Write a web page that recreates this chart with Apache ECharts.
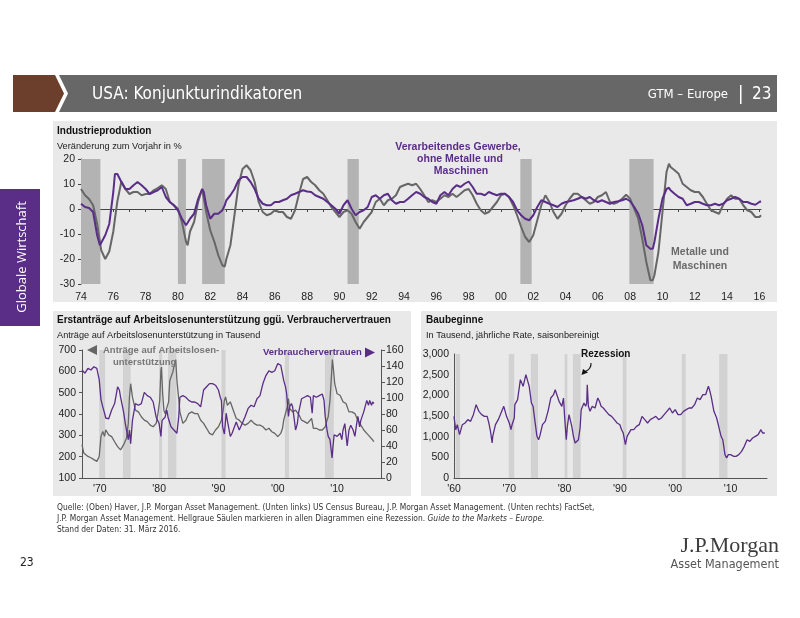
<!DOCTYPE html>
<html><head><meta charset="utf-8">
<script src="https://cdn.jsdelivr.net/npm/echarts@6/dist/echarts.min.js"></script>
<style>html,body{margin:0;padding:0;background:#fff}#c{width:800px;height:618px}</style>
</head><body><div id="c"></div><script>
// ---------- data ----------
const recessions = [[1960.3,1961.1],[1969.9,1970.9],[1973.9,1975.2],[1980.0,1980.5],[1981.5,1982.9],[1990.5,1991.2],[2001.2,2001.9],[2007.95,2009.45]];

// Industrieproduktion, Veränderung zum Vorjahr in %
const ipManufacturing = [[1974.0,2.1],[1974.25,0.8],[1974.5,0.4],[1974.75,-1.2],[1975.0,-10.5],[1975.17,-14.5],[1975.25,-13.9],[1975.5,-10.5],[1975.75,-6],[1976.0,6.8],[1976.1,14],[1976.25,14],[1976.5,10.8],[1976.75,8],[1977.0,8],[1977.25,9.5],[1977.5,10.8],[1977.75,9.5],[1978.0,8],[1978.25,6],[1978.5,6.8],[1978.75,7.5],[1979.0,8.8],[1979.25,4.8],[1979.5,2.8],[1979.75,1.5],[1980.0,-0.5],[1980.25,-3.9],[1980.5,-6.5],[1980.6,-5.5],[1980.75,-3.9],[1981.0,-1.9],[1981.25,4],[1981.5,8],[1981.6,6.8],[1981.75,1.5],[1982.0,-3.9],[1982.25,-1.9],[1982.5,-1.9],[1982.75,-0.5],[1982.9,1.5],[1983.0,3.5],[1983.25,5.5],[1983.5,8],[1983.75,11.5],[1984.0,12.8],[1984.25,12.8],[1984.5,10.8],[1984.75,8],[1985.0,4.1],[1985.25,2.1],[1985.5,1.5],[1985.75,1.5],[1986.0,2.8],[1986.25,2.8],[1986.5,3.5],[1986.75,4.1],[1987.0,5.5],[1987.25,6.1],[1987.5,6.8],[1987.75,7.5],[1988.0,7],[1988.25,6.8],[1988.5,5.5],[1988.75,4.8],[1989.0,4.1],[1989.25,2.8],[1989.5,1.5],[1989.75,0.1],[1990.0,-1.9],[1990.25,1.5],[1990.5,3.5],[1990.75,0.1],[1991.0,-2.5],[1991.25,-1.2],[1991.5,-0.5],[1991.75,0.8],[1992.0,4.8],[1992.25,5.5],[1992.5,4.1],[1992.75,5.5],[1993.0,6.1],[1993.25,3.5],[1993.5,2.1],[1993.75,2.8],[1994.0,2.8],[1994.25,4.1],[1994.5,5.5],[1994.75,6.8],[1995.0,6.1],[1995.25,4.8],[1995.5,4.1],[1995.75,2.8],[1996.0,2.1],[1996.25,5.5],[1996.5,6.8],[1996.75,5.5],[1997.0,8],[1997.25,9.5],[1997.5,8.8],[1997.75,10.1],[1998.0,11],[1998.25,8.8],[1998.5,6.1],[1998.75,6.1],[1999.0,5.5],[1999.25,6.8],[1999.5,6.1],[1999.75,5.5],[2000.0,6.1],[2000.25,6.1],[2000.5,4.8],[2000.75,2.8],[2001.0,-0.5],[2001.25,-2.5],[2001.5,-3.9],[2001.75,-4.5],[2002.0,-2.5],[2002.25,0.8],[2002.5,3.5],[2002.75,2.8],[2003.0,2.1],[2003.25,1.5],[2003.5,0.8],[2003.75,2.1],[2004.0,2.8],[2004.25,3.1],[2004.5,3.5],[2004.75,4.1],[2005.0,4.8],[2005.25,4.1],[2005.5,4.8],[2005.75,3.5],[2006.0,2.8],[2006.25,3.5],[2006.5,2.8],[2006.75,2.1],[2007.0,2.8],[2007.25,3.1],[2007.5,3.5],[2007.75,4.1],[2008.0,3.1],[2008.25,0.8],[2008.5,-1.9],[2008.75,-6.5],[2009.0,-14.5],[2009.25,-15.9],[2009.4,-15.9],[2009.5,-13.2],[2009.75,-3.9],[2010.0,4.1],[2010.25,8],[2010.4,8.5],[2010.5,7.5],[2010.75,6.1],[2011.0,4.8],[2011.25,4.1],[2011.5,1.5],[2011.75,2.1],[2012.0,2.8],[2012.25,2.8],[2012.5,2.1],[2012.75,1.5],[2013.0,1.5],[2013.25,2.1],[2013.5,1.5],[2013.75,2.1],[2014.0,3.5],[2014.25,4.1],[2014.5,4.8],[2014.75,4.1],[2015.0,2.8],[2015.25,2.8],[2015.5,2.1],[2015.75,1.7],[2016.0,2.8],[2016.1,3.1]];
const ipMetals = [[1974.0,8],[1974.25,5.5],[1974.5,4],[1974.75,1.5],[1975.0,-6],[1975.17,-13],[1975.25,-16.5],[1975.5,-20],[1975.75,-17],[1976.0,-9],[1976.1,-4],[1976.25,3],[1976.5,11],[1976.75,8],[1977.0,6],[1977.25,6.8],[1977.5,6.8],[1977.75,5.5],[1978.0,6],[1978.25,6],[1978.5,7.5],[1978.75,8.4],[1979.0,9.5],[1979.25,8],[1979.5,2.8],[1979.75,1.5],[1980.0,0.1],[1980.25,-5.2],[1980.5,-13],[1980.6,-14.5],[1980.75,-9],[1981.0,-5.2],[1981.25,2.8],[1981.5,8],[1981.6,8.8],[1981.75,-1.2],[1982.0,-8.5],[1982.25,-13],[1982.5,-18.5],[1982.75,-22.5],[1982.9,-23],[1983.0,-20],[1983.25,-14.5],[1983.5,-2.5],[1983.75,9.5],[1984.0,16],[1984.25,17.5],[1984.5,15.5],[1984.75,10.8],[1985.0,2.8],[1985.25,-1.2],[1985.5,-2.5],[1985.75,-1.9],[1986.0,-0.5],[1986.25,-1.2],[1986.5,-1.2],[1986.75,-3.2],[1987.0,-3.9],[1987.25,-0.5],[1987.5,6.1],[1987.75,12],[1988.0,12.8],[1988.25,10.8],[1988.5,9.5],[1988.75,7.5],[1989.0,6.1],[1989.25,3.5],[1989.5,0.8],[1989.75,-1.2],[1990.0,-3.2],[1990.25,-1.2],[1990.5,-0.5],[1990.75,-1.9],[1991.0,-5.2],[1991.25,-7.9],[1991.5,-5.2],[1991.75,-3.2],[1992.0,-1.2],[1992.25,2.8],[1992.5,4.1],[1992.75,1.5],[1993.0,3.5],[1993.25,4.1],[1993.5,5.5],[1993.75,8.8],[1994.0,9.5],[1994.25,10.1],[1994.5,9.5],[1994.75,10.1],[1995.0,8],[1995.25,5.5],[1995.5,2.8],[1995.75,3.5],[1996.0,2.8],[1996.25,4.1],[1996.5,5.5],[1996.75,4.8],[1997.0,6.1],[1997.25,4.8],[1997.5,6.1],[1997.75,7.5],[1998.0,8],[1998.25,5.5],[1998.5,2.1],[1998.75,-0.5],[1999.0,-1.9],[1999.25,-1.2],[1999.5,0.8],[1999.75,2.8],[2000.0,5.5],[2000.25,6.1],[2000.5,4.8],[2000.75,1.5],[2001.0,-2.5],[2001.25,-7.2],[2001.5,-11.2],[2001.75,-13.2],[2002.0,-10.5],[2002.25,-4.5],[2002.5,1.5],[2002.75,5.5],[2003.0,2.8],[2003.25,-1.2],[2003.5,-3.9],[2003.75,-1.9],[2004.0,1.5],[2004.25,4.1],[2004.5,6.1],[2004.75,6.1],[2005.0,4.8],[2005.25,3.5],[2005.5,2.1],[2005.75,2.8],[2006.0,4.8],[2006.25,5.5],[2006.5,6.8],[2006.75,2.8],[2007.0,2.1],[2007.25,2.8],[2007.5,4.1],[2007.75,5.7],[2008.0,4.1],[2008.25,0.1],[2008.5,-3.9],[2008.75,-11.9],[2009.0,-21.2],[2009.25,-28.5],[2009.4,-28.5],[2009.5,-26.5],[2009.75,-17.2],[2010.0,-1.2],[2010.25,14.8],[2010.4,18.1],[2010.5,16.8],[2010.75,15.5],[2011.0,14.1],[2011.25,10.1],[2011.5,8.8],[2011.75,7.5],[2012.0,6.8],[2012.25,6.8],[2012.5,4.8],[2012.75,2.1],[2013.0,-0.5],[2013.25,-1.2],[2013.5,-1.9],[2013.75,1.5],[2014.0,4.1],[2014.25,5.5],[2014.5,4.1],[2014.75,4.1],[2015.0,1.5],[2015.25,-0.5],[2015.5,-1.2],[2015.75,-3.2],[2016.0,-3.2],[2016.1,-2.5]];
const ipLabelYears = [1974,1976,1978,1980,1982,1984,1986,1988,1990,1992,1994,1996,1998,2000,2002,2004,2006,2008,2010,2012,2014,2016];
const ipTickYears = [1975,1976,1977,1978,1979,1980,1981,1982,1983,1984,1985,1986,1987,1988,1989,1990,1991,1992,1993,1994,1995,1996,1997,1998,1999,2000,2001,2002,2003,2004,2005,2006,2007,2008,2009,2010,2011,2012,2013,2014,2015,2016];

// Erstanträge auf Arbeitslosenunterstützung (Tsd.)
const joblessClaims = [[1967.0,256],[1967.3,217],[1967.6,215],[1968.0,201],[1968.5,195],[1969.0,186],[1969.5,178],[1969.9,201],[1970.2,295],[1970.5,318],[1970.8,295],[1971.0,326],[1971.5,302],[1972.0,294],[1972.5,270],[1973.0,247],[1973.5,232],[1974.0,255],[1974.5,286],[1974.8,356],[1975.0,480],[1975.2,542],[1975.5,480],[1976.0,418],[1976.5,410],[1977.0,387],[1977.5,371],[1978.0,364],[1978.5,348],[1979.0,340],[1979.5,356],[1979.8,402],[1980.1,464],[1980.3,604],[1980.4,620],[1980.6,495],[1980.8,418],[1981.0,402],[1981.3,410],[1981.6,457],[1981.8,557],[1982.0,573],[1982.3,596],[1982.6,635],[1982.8,655],[1983.0,557],[1983.3,472],[1983.5,410],[1984.0,356],[1984.5,371],[1985.0,402],[1985.5,410],[1986.0,402],[1986.5,402],[1987.0,371],[1987.5,356],[1988.0,333],[1988.5,309],[1989.0,302],[1989.5,325],[1990.0,340],[1990.5,371],[1990.8,418],[1991.0,464],[1991.2,480],[1991.5,441],[1992.0,457],[1992.5,418],[1993.0,379],[1993.5,371],[1994.0,356],[1994.5,348],[1995.0,356],[1995.5,371],[1996.0,356],[1996.5,348],[1997.0,348],[1997.5,340],[1998.0,325],[1998.5,333],[1999.0,317],[1999.5,309],[2000.0,294],[2000.5,309],[2000.8,333],[2001.0,371],[2001.3,402],[2001.6,433],[2001.8,472],[2002.0,426],[2002.5,410],[2003.0,418],[2003.3,426],[2003.6,395],[2004.0,371],[2004.5,364],[2005.0,356],[2005.7,379],[2006.0,333],[2006.5,333],[2007.0,325],[2007.5,325],[2008.0,340],[2008.3,371],[2008.5,387],[2008.8,464],[2009.0,557],[2009.2,655],[2009.4,604],[2009.6,542],[2010.0,495],[2010.5,488],[2011.0,457],[2011.5,449],[2012.0,410],[2012.5,410],[2013.0,402],[2013.5,371],[2014.0,348],[2014.5,325],[2015.0,309],[2015.5,294],[2016.0,278],[2016.2,270]];
// Verbrauchervertrauen (Index)
const consumerConfidence = [[1967.0,135],[1967.5,131],[1968.0,137],[1968.5,135],[1969.0,139],[1969.5,137],[1969.9,123],[1970.2,98],[1970.5,89],[1970.8,81],[1971.0,75],[1971.5,74],[1972.0,85],[1972.5,93],[1973.0,114],[1973.3,110],[1973.5,101],[1974.0,83],[1974.3,68],[1974.5,60],[1974.8,48],[1975.0,60],[1975.2,43],[1975.5,72],[1976.0,93],[1976.5,91],[1977.0,93],[1977.5,107],[1978.0,103],[1978.5,101],[1979.0,95],[1979.5,76],[1980.0,68],[1980.3,52],[1980.5,72],[1981.0,76],[1981.3,85],[1981.5,76],[1982.0,64],[1982.5,60],[1983.0,56],[1983.3,76],[1983.5,101],[1984.0,103],[1984.5,101],[1985.0,97],[1985.5,95],[1986.0,95],[1986.5,93],[1987.0,89],[1987.5,110],[1988.0,114],[1988.5,118],[1989.0,118],[1989.5,116],[1990.0,110],[1990.3,101],[1990.5,97],[1990.7,64],[1991.0,55],[1991.3,81],[1991.5,72],[1992.0,52],[1992.3,56],[1992.5,60],[1993.0,70],[1993.5,60],[1994.0,68],[1994.5,77],[1995.0,87],[1995.5,91],[1996.0,89],[1996.5,99],[1997.0,103],[1997.5,118],[1998.0,128],[1998.5,134],[1999.0,132],[1999.5,134],[2000.0,143],[2000.5,141],[2000.8,139],[2001.0,122],[2001.3,114],[2001.5,105],[2001.8,77],[2002.0,89],[2002.3,93],[2002.5,89],[2002.8,72],[2003.0,60],[2003.3,68],[2003.5,81],[2004.0,99],[2004.5,101],[2005.0,103],[2005.5,101],[2005.8,81],[2006.0,103],[2006.5,101],[2007.0,103],[2007.5,105],[2007.8,97],[2008.0,77],[2008.3,60],[2008.5,52],[2008.8,48],[2009.0,35],[2009.15,25],[2009.3,39],[2009.5,54],[2010.0,52],[2010.5,56],[2010.8,48],[2011.0,60],[2011.3,68],[2011.7,40],[2012.0,60],[2012.3,66],[2012.7,60],[2013.0,52],[2013.3,68],[2013.5,77],[2013.8,64],[2014.0,72],[2014.5,83],[2015.0,97],[2015.3,91],[2015.5,97],[2015.8,91],[2016.0,95],[2016.2,93]];
const claimsLabelYears = [1970,1980,1990,2000,2010];

// Baubeginne, Tsd., jährliche Rate
const housingStarts = [[1960.0,1492],[1960.3,1169],[1960.6,1290],[1961.0,1048],[1961.5,1290],[1962.0,1331],[1962.5,1411],[1963.0,1371],[1963.5,1532],[1964.0,1774],[1964.3,1815],[1964.5,1613],[1965.0,1532],[1965.5,1492],[1966.0,1492],[1966.3,1331],[1966.6,1129],[1966.9,847],[1967.0,1008],[1967.5,1290],[1968.0,1411],[1968.5,1573],[1969.0,1734],[1969.5,1492],[1970.0,1331],[1970.3,1169],[1970.5,1290],[1970.9,1452],[1971.0,1774],[1971.5,1895],[1972.0,2379],[1972.3,2339],[1972.5,2218],[1973.0,2500],[1973.3,2460],[1973.6,2218],[1974.0,1815],[1974.3,1734],[1974.6,1411],[1975.0,1008],[1975.3,927],[1975.5,1008],[1976.0,1290],[1976.5,1371],[1977.0,1613],[1977.5,1935],[1978.0,2016],[1978.3,2137],[1978.6,2016],[1979.0,1855],[1979.5,1734],[1979.8,1935],[1980.0,1492],[1980.3,927],[1980.5,1250],[1980.8,1532],[1981.0,1492],[1981.3,1250],[1981.6,1008],[1981.9,847],[1982.2,887],[1982.5,927],[1982.8,1210],[1983.0,1653],[1983.5,1815],[1983.8,1734],[1984.0,1815],[1984.1,2258],[1984.3,1734],[1984.6,1613],[1985.0,1734],[1985.5,1694],[1986.0,1935],[1986.3,1855],[1986.6,1734],[1987.0,1694],[1987.5,1613],[1988.0,1532],[1988.5,1492],[1989.0,1411],[1989.5,1331],[1990.0,1290],[1990.3,1169],[1990.6,1089],[1991.0,807],[1991.3,1008],[1991.6,1048],[1992.0,1169],[1992.5,1169],[1993.0,1250],[1993.5,1290],[1994.0,1492],[1994.5,1411],[1995.0,1331],[1995.5,1411],[1996.0,1452],[1996.5,1492],[1997.0,1411],[1997.5,1452],[1998.0,1532],[1998.5,1613],[1999.0,1694],[1999.5,1573],[2000.0,1653],[2000.5,1532],[2001.0,1532],[2001.5,1613],[2002.0,1653],[2002.5,1694],[2003.0,1694],[2003.5,1774],[2004.0,1935],[2004.5,1895],[2005.0,2016],[2005.5,2016],[2006.0,2218],[2006.2,2137],[2006.5,1976],[2007.0,1613],[2007.5,1452],[2008.0,1169],[2008.3,1008],[2008.6,927],[2009.0,565],[2009.3,484],[2009.6,565],[2010.0,565],[2010.3,605],[2010.6,524],[2011.0,524],[2011.5,565],[2012.0,645],[2012.5,766],[2013.0,927],[2013.5,887],[2014.0,968],[2014.5,1008],[2015.0,1048],[2015.5,1169],[2015.8,1089],[2016.0,1129],[2016.2,1089]];
const housingLabelYears = [1960,1970,1980,1990,2000,2010];

// ---------- styling ----------
const PURPLE = '#5a2d88', GREY_LINE = '#666666', PANEL = '#e9e9e9', AXIS = '#555';
const SANS = '"Liberation Sans", Arial, Helvetica, sans-serif';
const NARROW = '"DejaVu Sans Condensed", "Liberation Sans", sans-serif';

function recessionSeries(xi, yi, color, lo, hi) {
  return {
    type: 'custom', xAxisIndex: xi, yAxisIndex: yi, silent: true, z: 1,
    data: recessions.filter(r => r[1] > lo && r[0] < hi).map(r => [Math.max(r[0], lo), Math.min(r[1], hi)]),
    encode: { x: [0, 1] },
    renderItem: (params, api) => {
      const cs = params.coordSys;
      const x0 = api.coord([api.value(0), 0])[0];
      const x1 = api.coord([api.value(1), 0])[0];
      return { type: 'rect', shape: { x: x0, y: cs.y, width: x1 - x0, height: cs.height }, style: { fill: color } };
    }
  };
}
function lineSeries(xi, yi, data, color, width, z) {
  return { type: 'line', xAxisIndex: xi, yAxisIndex: yi, data: data, showSymbol: false, symbol: 'none',
    silent: true, z: z, lineStyle: { color: color, width: width }, emphasis: { disabled: true } };
}
const lblStyle = { color: '#222', fontSize: 10.5, fontFamily: SANS };
function txt(text, x, y, font, fill, align, vAlign) {
  return { type: 'text', silent: true, z: 50,
    style: { text: text, x: x, y: y, font: font, fill: fill || '#222',
      align: align || 'left', textAlign: align || 'left',
      verticalAlign: vAlign || 'middle', textVerticalAlign: vAlign || 'middle' } };
}

const chart = echarts.init(document.getElementById('c'), null, { renderer: 'canvas' });
const option = {
  animation: false,
  backgroundColor: '#ffffff',
  grid: [
    { left: 81, top: 159, width: 680, height: 125, outerBoundsMode: 'none', containLabel: false },
    { left: 82, top: 350, width: 299, height: 128, outerBoundsMode: 'none', containLabel: false },
    { left: 454, top: 354, width: 313, height: 124, outerBoundsMode: 'none', containLabel: false }
  ],
  xAxis: [
    { type: 'value', gridIndex: 0, min: 1974, max: 2016.1, position: 'bottom',
      axisLine: { show: false, onZero: false }, axisTick: { show: false }, splitLine: { show: false },
      axisLabel: Object.assign({ margin: 8, customValues: ipLabelYears, formatter: v => String(v % 100).padStart(2, '0') }, lblStyle) },
    { type: 'value', gridIndex: 0, min: 1974, max: 2016.1, position: 'bottom',
      axisLine: { show: true, onZero: true, lineStyle: { color: '#444', width: 1 } },
      axisTick: { show: true, length: 3, customValues: ipTickYears, lineStyle: { color: '#444' } },
      axisLabel: { show: false }, splitLine: { show: false } },
    { type: 'value', gridIndex: 1, min: 1967, max: 2017.4, position: 'bottom',
      axisLine: { show: true, onZero: false, lineStyle: { color: AXIS } }, axisTick: { show: false }, splitLine: { show: false },
      axisLabel: Object.assign({ margin: 6, customValues: claimsLabelYears, formatter: v => "'" + String(v % 100).padStart(2, '0') }, lblStyle) },
    { type: 'value', gridIndex: 2, min: 1960, max: 2016.6, position: 'bottom',
      axisLine: { show: true, onZero: false, lineStyle: { color: AXIS } }, axisTick: { show: false }, splitLine: { show: false },
      axisLabel: Object.assign({ margin: 6, customValues: housingLabelYears, formatter: v => "'" + String(v % 100).padStart(2, '0') }, lblStyle) }
  ],
  yAxis: [
    { type: 'value', gridIndex: 0, min: -30, max: 20, interval: 10,
      axisLine: { show: true, onZero: false, lineStyle: { color: '#444' } },
      axisTick: { show: true, length: 3, lineStyle: { color: '#444' } }, splitLine: { show: false },
      axisLabel: Object.assign({ margin: 6 }, lblStyle) },
    { type: 'value', gridIndex: 1, min: 100, max: 700, interval: 100, position: 'left',
      axisLine: { show: true, onZero: false, lineStyle: { color: AXIS } },
      axisTick: { show: true, length: 3, lineStyle: { color: AXIS } }, splitLine: { show: false },
      axisLabel: Object.assign({ margin: 6 }, lblStyle) },
    { type: 'value', gridIndex: 1, min: 0, max: 160, interval: 20, position: 'right',
      axisLine: { show: true, onZero: false, lineStyle: { color: AXIS } },
      axisTick: { show: true, length: 4, lineStyle: { color: AXIS } }, splitLine: { show: false },
      axisLabel: Object.assign({ margin: 5 }, lblStyle) },
    { type: 'value', gridIndex: 2, min: 0, max: 3000, interval: 500,
      axisLine: { show: true, onZero: false, lineStyle: { color: AXIS } },
      axisTick: { show: false }, splitLine: { show: false },
      axisLabel: Object.assign({ margin: 5, formatter: v => v.toLocaleString('en-US') }, lblStyle) }
  ],
  series: [
    recessionSeries(0, 0, '#b3b3b3', 1974, 2016.1),
    lineSeries(0, 0, ipMetals, GREY_LINE, 2, 3),
    lineSeries(0, 0, ipManufacturing, PURPLE, 2, 4),
    recessionSeries(2, 1, '#d2d2d2', 1967, 2017.4),
    lineSeries(2, 1, joblessClaims, GREY_LINE, 1.3, 3),
    lineSeries(2, 2, consumerConfidence, PURPLE, 1.3, 4),
    recessionSeries(3, 3, '#d2d2d2', 1960, 2016.6),
    lineSeries(3, 3, housingStarts, PURPLE, 1.3, 4)
  ],
  graphic: [
    // header
    { type: 'polygon', silent: true, z: 0, shape: { points: [[13,75],[55,75],[64,93.5],[55,112],[13,112]] }, style: { fill: '#6b3f2c' } },
    { type: 'polygon', silent: true, z: 0, shape: { points: [[59,75],[777,75],[777,112],[59,112],[68,93.5]] }, style: { fill: '#676767' } },
    txt('USA: Konjunkturindikatoren', 92, 94.5, '17px ' + NARROW, '#ffffff'),
    txt('GTM – Europe', 728, 94.5, '13px ' + NARROW, '#ffffff', 'right'),
    { type: 'rect', silent: true, z: 50, shape: { x: 740, y: 85, width: 1.5, height: 19 }, style: { fill: '#ffffff' } },
    txt('23', 752, 94.5, '17px ' + NARROW, '#ffffff'),
    // side tab
    { type: 'rect', silent: true, z: 0, shape: { x: 0, y: 189, width: 40, height: 137 }, style: { fill: '#5a2d86' } },
    { type: 'text', silent: true, z: 50, x: 22, y: 257, rotation: Math.PI / 2,
      style: { text: 'Globale Wirtschaft', font: '13px "Open Sans", ' + SANS, fill: '#ffffff', align: 'center', textAlign: 'center', verticalAlign: 'middle', textVerticalAlign: 'middle' } },
    // panels
    { type: 'rect', silent: true, z: -10, shape: { x: 53, y: 121, width: 724, height: 181 }, style: { fill: PANEL } },
    { type: 'rect', silent: true, z: -10, shape: { x: 53, y: 311, width: 358, height: 185 }, style: { fill: PANEL } },
    { type: 'rect', silent: true, z: -10, shape: { x: 421, y: 311, width: 356, height: 185 }, style: { fill: PANEL } },
    // top panel texts
    txt('Industrieproduktion', 57, 131, 'bold 10px ' + SANS, '#111'),
    txt('Veränderung zum Vorjahr in %', 57, 146, '9.2px ' + SANS, '#222'),
    txt('Verarbeitendes Gewerbe,', 458, 147, 'bold 10.5px ' + SANS, PURPLE, 'center'),
    txt('ohne Metalle und', 460, 159, 'bold 10.5px ' + SANS, PURPLE, 'center'),
    txt('Maschinen', 461, 171.5, 'bold 10.5px ' + SANS, PURPLE, 'center'),
    txt('Metalle und', 700, 252.5, 'bold 10.5px ' + SANS, '#6a6a6a', 'center'),
    txt('Maschinen', 700, 266, 'bold 10.5px ' + SANS, '#6a6a6a', 'center'),
    // bottom-left texts
    txt('Erstanträge auf Arbeitslosenunterstützung ggü. Verbrauchervertrauen', 57, 320, 'bold 10px ' + SANS, '#111'),
    txt('Anträge auf Arbeitslosenunterstützung in Tausend', 57, 335.5, '9.2px ' + SANS, '#222'),
    { type: 'polygon', silent: true, z: 50, shape: { points: [[87,350],[97,345],[97,355]] }, style: { fill: '#666' } },
    txt('Anträge auf Arbeitslosen-', 103, 350, 'bold 9.5px ' + SANS, '#777'),
    txt('unterstützung', 113, 362, 'bold 9.5px ' + SANS, '#777'),
    txt('Verbrauchervertrauen', 263, 352.5, 'bold 9.5px ' + SANS, PURPLE),
    { type: 'polygon', silent: true, z: 50, shape: { points: [[365,347.5],[375,352.5],[365,357.5]] }, style: { fill: PURPLE } },
    // bottom-right texts
    txt('Baubeginne', 426, 320, 'bold 10px ' + SANS, '#111'),
    txt('In Tausend, jährliche Rate, saisonbereinigt', 426, 335.5, '9.2px ' + SANS, '#222'),
    txt('Rezession', 581, 354.5, 'bold 10px ' + SANS, '#111'),
    { type: 'bezierCurve', silent: true, z: 50, shape: { x1: 591, y1: 363, x2: 585.5, y2: 371.5, cpx1: 591.5, cpy1: 368.5 }, style: { stroke: '#111', lineWidth: 1.1, fill: null } },
    { type: 'polygon', silent: true, z: 50, shape: { points: [[581.5,375],[583,369],[588,372.5]] }, style: { fill: '#111' } },
    // footer
    txt('Quelle: (Oben) Haver, J.P. Morgan Asset Management. (Unten links) US Census Bureau, J.P. Morgan Asset Management. (Unten rechts) FactSet,', 57, 507.5, '8.4px ' + NARROW, '#333'),
    { type: 'text', silent: true, z: 50, style: { x: 57, y: 518.5, align: 'left', textAlign: 'left', verticalAlign: 'middle', textVerticalAlign: 'middle',
        text: '{n|J.P. Morgan Asset Management. Hellgraue Säulen markieren in allen Diagrammen eine Rezession. }{i|Guide to the Markets – Europe.}',
        rich: { n: { font: '8.4px ' + NARROW, fill: '#333', color: '#333' }, i: { font: 'italic 8.4px ' + NARROW, fill: '#333', color: '#333' } } } },
    txt('Stand der Daten: 31. März 2016.', 57, 529.5, '8.4px ' + NARROW, '#333'),
    txt('23', 20, 563, '12px ' + NARROW, '#222'),
    txt('J.P.Morgan', 779, 546, '22px "Liberation Serif", "DejaVu Serif", serif', '#3d3d3d', 'right'),
    txt('Asset Management', 779, 565, '12.5px ' + NARROW, '#555', 'right')
  ]
};
chart.setOption(option);
</script></body></html>
